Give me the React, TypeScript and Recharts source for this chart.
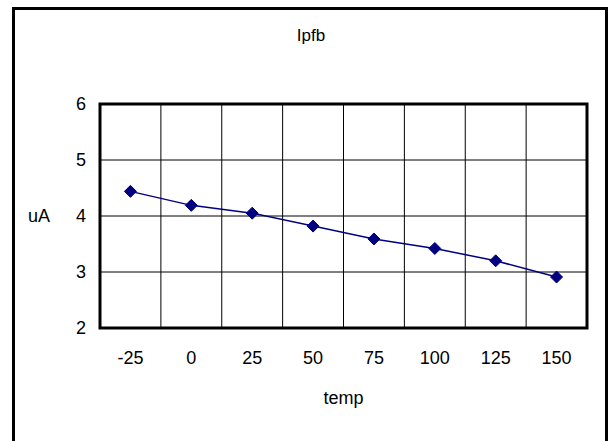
import React from 'react';
import { ComposedChart, Line, XAxis, YAxis, CartesianGrid, ReferenceArea } from 'recharts';

// temperature categories and measured current (uA)
const temps = ['-25', '0', '25', '50', '75', '100', '125', '150'];
const ipfb = [4.44, 4.19, 4.05, 3.82, 3.59, 3.42, 3.2, 2.91];
const yTicks = [2, 3, 4, 5, 6];

const data = temps.map((t, i) => ({ temp: t, ipfb: ipfb[i] }));

const font = 'Liberation Sans, Arial, sans-serif';
const navy = '#000080';

const Diamond = (props: any) => {
  const { cx, cy } = props;
  if (cx == null || cy == null) return null;
  const r = 6;
  return <polygon points={`${cx},${cy - r} ${cx + r},${cy} ${cx},${cy + r} ${cx - r},${cy}`} fill={navy} stroke={navy} />;
};

export default function App() {
  const verticalLines = ({ offset }: any) =>
    Array.from({ length: temps.length + 1 }, (_, i) => offset.left + (i * offset.width) / temps.length);

  return (
    <div style={{ position: 'fixed', left: 0, top: 0, width: 611, height: 441, background: '#fff', overflow: 'hidden', fontFamily: font }}>
      <div style={{ position: 'absolute', left: 12, top: 7, width: 590, height: 450, border: '3px solid #000' }} />
      <div style={{ position: 'absolute', left: 0, width: 622, top: 26, textAlign: 'center', fontSize: 17, color: '#000' }}>Ipfb</div>
      <div style={{ position: 'absolute', left: 0, top: 0 }}>
        <ComposedChart
          width={611}
          height={441}
          data={data}
          margin={{ top: 104, right: 24, bottom: 23, left: 13 }}
          style={{ fontFamily: font }}
        >
          <CartesianGrid stroke="#000" strokeWidth={1} verticalCoordinatesGenerator={verticalLines} />
          <XAxis
            dataKey="temp"
            scale="band"
            height={90}
            tickLine={false}
            tickSize={6}
            tickMargin={17}
            axisLine={false}
            tick={{ fill: '#000', fontSize: 18, fontFamily: font }}
            label={{ value: 'temp', position: 'insideBottom', offset: 14, fill: '#000', fontSize: 18, fontFamily: font }}
          />
          <YAxis
            domain={[2, 6]}
            ticks={yTicks}
            width={87}
            tickLine={false}
            tickSize={6}
            tickMargin={8}
            axisLine={false}
            tick={{ fill: '#000', fontSize: 18, fontFamily: font }}
            label={{ value: 'uA', position: 'insideLeft', offset: 15, fill: '#000', fontSize: 18, fontFamily: font }}
          />
          {/* plot-area frame */}
          <ReferenceArea y1={2} y2={6} fill="none" fillOpacity={0} stroke="#000" strokeWidth={3} strokeOpacity={1} ifOverflow="visible" />
          <Line
            type="linear"
            dataKey="ipfb"
            stroke={navy}
            strokeWidth={1.5}
            dot={<Diamond />}
            activeDot={false}
            isAnimationActive={false}
          />
        </ComposedChart>
      </div>
    </div>
  );
}
